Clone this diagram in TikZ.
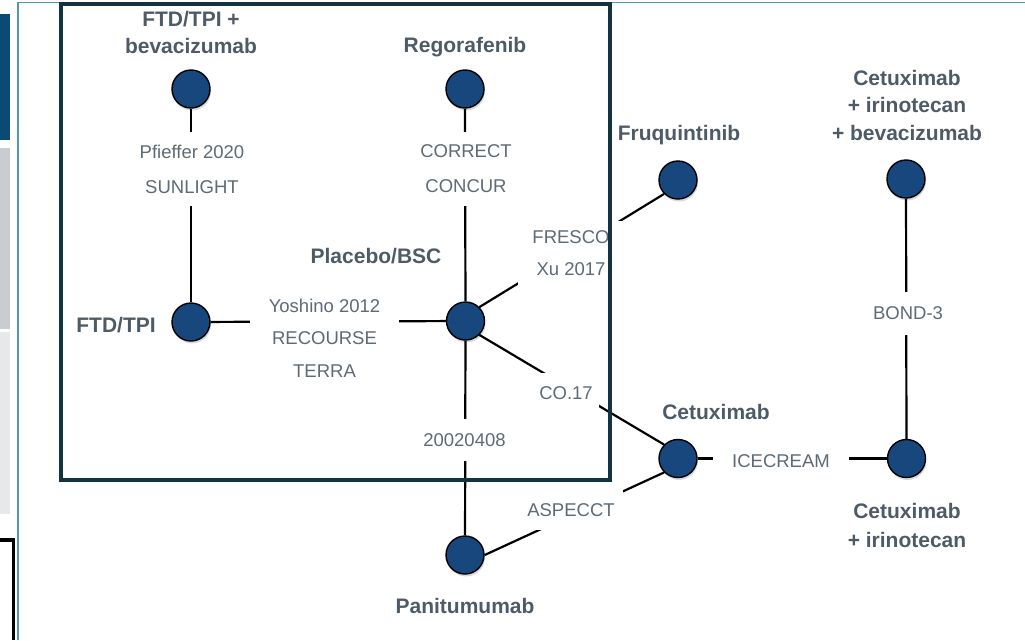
\documentclass[tikz,border=0pt]{standalone}
\usepackage{fontspec}
\setmainfont{Liberation Sans}
\usetikzlibrary{shadows}
\definecolor{nodeblue}{HTML}{17477C}
\definecolor{boldgrey}{HTML}{4E5B67}
\definecolor{labgrey}{HTML}{5E6A75}
\definecolor{rectcol}{HTML}{12343F}
\definecolor{tealline}{HTML}{4A9BB5}
\definecolor{darkbar}{HTML}{0B4A72}
\definecolor{greyA}{HTML}{C9CDD1}
\definecolor{greyB}{HTML}{E7E8EA}
\begin{document}
\begin{tikzpicture}[x=1pt,y=-1pt,
  trt/.style={circle, draw=black, line width=1.4pt, fill=nodeblue, minimum size=38pt, inner sep=0pt,
    drop shadow={opacity=0.3, shadow xshift=1pt, shadow yshift=-2.5pt}},
  tlab/.style={text=boldgrey, font=\fontsize{21}{27}\selectfont\bfseries, align=center, inner sep=0pt},
  elab/.style={text=labgrey, font=\fontsize{18.5}{33}\selectfont, align=center, fill=white},
  link/.style={line width=2.2pt, black}
]
\useasboundingbox (0,0) rectangle (1025,640);
% left page decorations
\fill[darkbar] (0,14) rectangle (10,140);
\fill[greyA] (0,148) rectangle (10,329);
\fill[greyB] (0,332) rectangle (10,514);
\draw[line width=3.5pt, black] (0,540) -- (13.5,540) -- (13.5,640);
\draw[tealline, line width=1.5pt] (18,640) -- (18,2.5) -- (1025,2.5);

% treatment nodes
\node[trt] (ftdbev) at (191,89) {};
\node[trt] (rego) at (465,89) {};
\node[trt] (ftd) at (191,322) {};
\node[trt] (pla) at (465.5,321) {};
\node[trt] (fruq) at (678,180) {};
\node[trt] (cib) at (906,179) {};
\node[trt] (cet) at (678,458.5) {};
\node[trt] (ci) at (906.5,458.5) {};
\node[trt] (pan) at (465,555) {};

% treatment labels
\node[tlab] (lftdbev) at (191,32) {FTD/TPI +\\bevacizumab};
\node[tlab, anchor=base] (lrego) at (465,52) {Regorafenib};
\node[tlab, anchor=base] (lpla) at (376,263) {Placebo/BSC};
\node[tlab, anchor=base] (lftd) at (116,332) {FTD/TPI};
\node[tlab, anchor=base] (lfruq) at (679,140) {Fruquintinib};
\node[tlab, font=\fontsize{21}{27.5}\selectfont\bfseries] (lcib) at (907,105) {Cetuximab\\+ irinotecan\\+ bevacizumab};
\node[tlab, anchor=base] (lcet) at (716,419) {Cetuximab};
\node[tlab, font=\fontsize{21}{29}\selectfont\bfseries] (lci) at (907,525) {Cetuximab\\+ irinotecan};
\node[tlab, anchor=base] (lpan) at (465,613) {Panitumumab};

% connectors
\draw[link] (ftdbev) -- (ftd);
\draw[link] (rego) -- (pla);
\draw[link] (ftd) -- (pla);
\draw[link] (pla.north east) -- (fruq.south west);
\draw[link] (pla.south east) -- (cet.north west);
\draw[link] (pla) -- (pan);
\draw[link] (pan.east) -- (cet.south west);
\draw[link] (cet) -- (ci);
\draw[link] (cib) -- (ci);

% trial labels
\node[elab, font=\fontsize{18.5}{35}\selectfont, inner xsep=4pt, inner ysep=13pt] (e1) at (192,169) {Pfieffer 2020\\SUNLIGHT};
\node[elab, font=\fontsize{18.5}{35}\selectfont, inner xsep=4pt, inner ysep=13pt] (e2) at (466,169) {CORRECT\\CONCUR};
\node[elab, font=\fontsize{18.5}{32.5}\selectfont, inner xsep=19pt, inner ysep=4pt] (e3) at (324.5,338) {Yoshino 2012\\RECOURSE\\TERRA};
\node[elab, font=\fontsize{18.5}{32}\selectfont, inner xsep=14pt, inner ysep=10pt] (e4) at (571,253.5) {FRESCO\\Xu 2017};
\node[elab, inner xsep=6pt, inner ysep=14pt] (e5) at (566,393.5) {CO.17};
\node[elab, inner xsep=4pt, inner ysep=14pt] (e6) at (464.5,440) {20020408};
\node[elab, inner xsep=8pt, inner ysep=13pt] (e7) at (571,510) {ASPECCT};
\node[elab, inner xsep=19pt, inner ysep=4pt] (e8) at (781,461) {ICECREAM};
\node[elab, inner xsep=4pt, inner ysep=15pt] (e9) at (908,313.5) {BOND-3};

% framing rectangle
\draw[rectcol, line width=4pt] (60.5,3.5) rectangle (610,480);
\end{tikzpicture}
\end{document}
